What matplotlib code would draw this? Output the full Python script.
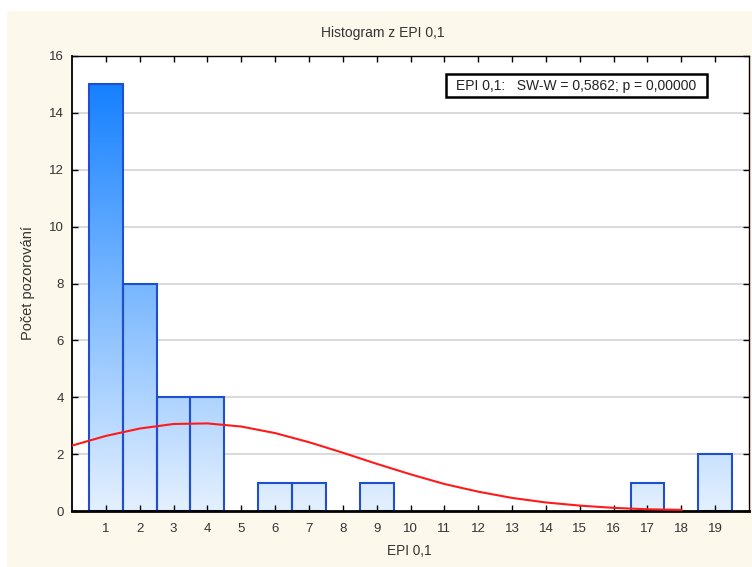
import matplotlib.pyplot as plt
import numpy as np
from matplotlib.colors import LinearSegmentedColormap
from matplotlib.patches import Rectangle

plt.rcParams["font.family"] = ["Liberation Sans", "DejaVu Sans"]

# histogram bins (class centres) and counts
bin_centers = [1, 2, 3, 4, 6, 7, 9, 17, 19]
counts = [15, 8, 4, 4, 1, 1, 1, 1, 2]

# fitted normal curve
curve_x = [0, 1, 2, 3, 4, 5, 6, 7, 8, 9, 10, 11, 12, 13, 14, 15, 16, 17, 18]
curve_y = [2.30, 2.64, 2.90, 3.06, 3.08, 2.97, 2.74, 2.42, 2.05, 1.66,
           1.29, 0.95, 0.68, 0.46, 0.30, 0.19, 0.11, 0.06, 0.04]

x_ticks = list(range(1, 20))
y_ticks = list(range(0, 17, 2))

title = "Histogram z EPI 0,1"
x_label = "EPI 0,1"
y_label = "Počet pozorování"
stat_text = "EPI 0,1:   SW-W = 0,5862; p = 0,00000"

cream = "#fdf8ec"
edge_blue = "#1f4fcf"
bar_cmap = LinearSegmentedColormap.from_list("bars", ["#e4f0fe", "#7ab8ff", "#0f7dff"])

fig = plt.figure(figsize=(7.52, 5.67), dpi=100)
fig.patch.set_facecolor("white")
# cream panel behind everything
fig.patches.append(Rectangle((7 / 752, 0), 1, 1 - 11 / 567, transform=fig.transFigure,
                             facecolor=cream, edgecolor="none", zorder=-10))

ax = fig.add_axes([72 / 752, 1 - 511 / 567, 677 / 752, 455 / 567])
ax.set_facecolor("white")

# horizontal grid
for yv in y_ticks[1:-1]:
    ax.axhline(yv, color="#d9d9d9", lw=1.4, zorder=0)

# bars with vertical gradient
vmax = 15.5
for xc, h in zip(bin_centers, counts):
    grad = np.linspace(0, h, 200).reshape(-1, 1)
    ax.imshow(grad, extent=[xc - 0.5, xc + 0.5, 0, h], origin="lower", aspect="auto",
              cmap=bar_cmap, vmin=0, vmax=vmax, zorder=1, interpolation="bilinear")
ax.bar(bin_centers, counts, width=1.0, fill=False, edgecolor=edge_blue, linewidth=1.5, zorder=2)
ax.set_xlim(0, 20)
ax.set_ylim(0, 16)

ax.plot(curve_x, curve_y, color="#ff1a1a", lw=1.5, zorder=3)

ax.set_xticks(x_ticks)
ax.set_yticks(y_ticks)
ax.tick_params(direction="in", length=4, width=1, labelsize=9.5, labelcolor="#333333",
               top=True, right=True, pad=6)
ax.tick_params(axis="x", pad=9)
for side in ["top", "right"]:
    ax.spines[side].set_linewidth(1.0)
ax.spines["left"].set_linewidth(1.3)
ax.spines["bottom"].set_linewidth(2.0)

# statistics box
ax.add_patch(Rectangle((0.552, 0.910), 0.386, 0.0505, transform=ax.transAxes,
                       facecolor="white", edgecolor="black", lw=1.8, zorder=5))
ax.text(0.745, 0.935, stat_text, transform=ax.transAxes, ha="center", va="center",
        fontsize=10, color="#222222", zorder=6)

fig.text(383 / 752, 1 - 33 / 567, title, ha="center", va="center", fontsize=10, color="#333333")
fig.text(409 / 752, 1 - 551 / 567, x_label, ha="center", va="center", fontsize=9.8, color="#333333")
fig.text(28 / 752, 1 - 283 / 567, y_label, ha="center", va="center", rotation=90,
         fontsize=10.5, color="#333333")

fig.savefig("out.png", dpi=100, facecolor=fig.get_facecolor())
